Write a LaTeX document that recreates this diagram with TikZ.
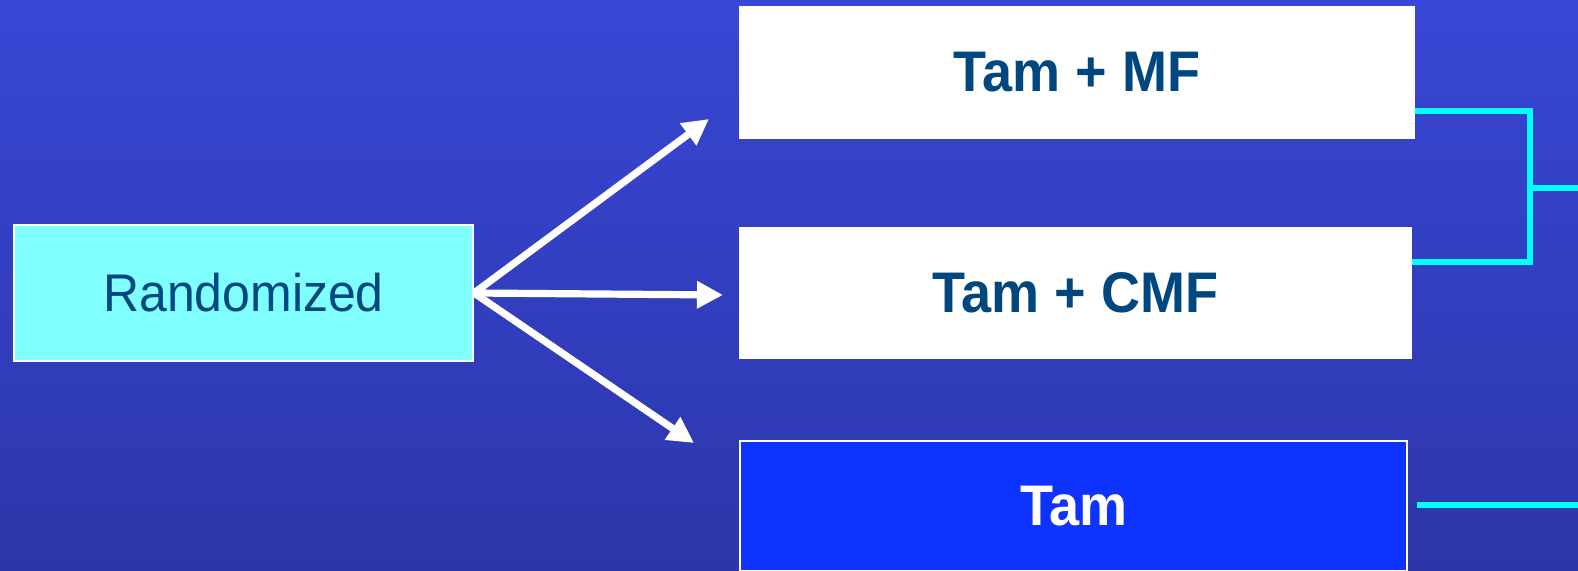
\documentclass[tikz,border=0pt]{standalone}
\usepackage{fontspec}
\setmainfont{Liberation Sans}
\usetikzlibrary{arrows.meta,calc}
\definecolor{bgtop}{RGB}{56,71,213}
\definecolor{bgbot}{RGB}{44,54,169}
\definecolor{txtblue}{RGB}{0,70,127}
\definecolor{lightcyan}{RGB}{127,255,255}
\definecolor{tamblue}{RGB}{15,51,255}
\definecolor{linecyan}{RGB}{0,255,255}
\newcommand{\lowtext}[2]{\raisebox{-#1}{\scalebox{1}[1.06]{#2}}}
\tikzset{
  box/.style={draw=white, line width=1pt, rectangle, inner sep=0pt},
  whitebox/.style={box, fill=white, text=txtblue, font=\fontsize{27}{30}\selectfont\bfseries},
  arr/.style={draw=white, line width=3.6pt, -{Triangle[length=13pt,width=13pt]}},
  cyanline/.style={draw=linecyan, line width=2.8pt},
}
\begin{document}
\begin{tikzpicture}[x=0.5pt,y=-0.5pt]
\useasboundingbox (0,0) rectangle (1578,571);
\shade[top color=bgtop, bottom color=bgbot] (0,0) rectangle (1578,571);
\node[box, fill=lightcyan, text=txtblue, font=\fontsize{25}{28}\selectfont, minimum width=229.5pt, minimum height=68pt] (R) at (243.5,293) {\lowtext{2pt}{Randomized}};
\node[whitebox, minimum width=337pt, minimum height=65.5pt] (MF) at (1077,72.5) {\lowtext{1.5pt}{Tam + MF}};
\node[whitebox, minimum width=335.5pt, minimum height=65pt] (CMF) at (1075.5,293) {\lowtext{1.5pt}{Tam + CMF}};
\node[box, fill=tamblue, text=white, font=\fontsize{27}{30}\selectfont\bfseries, minimum width=333.5pt, minimum height=65pt] (T) at (1073.5,506) {\lowtext{2.5pt}{Tam}};
\coordinate (a1) at (709,119);
\coordinate (a2) at (723,295);
\coordinate (a3) at (694,443);
\draw[arr] (R.east) -- (a1);
\draw[arr] (R.east) -- (a2);
\draw[arr] (R.east) -- (a3);
\coordinate (b1) at (1530,111);
\coordinate (b2) at (1530,262);
\coordinate (b3) at (1530,188);
\coordinate (e1) at (1578,188);
\coordinate (t1) at (1417,505);
\coordinate (t2) at (1578,505);
\draw[cyanline] (MF.east |- b1) -- (b1) -- (b2) -- (CMF.east |- b2);
\draw[cyanline] (b3) -- (e1);
\draw[cyanline] (t1) -- (t2);
\end{tikzpicture}
\end{document}
